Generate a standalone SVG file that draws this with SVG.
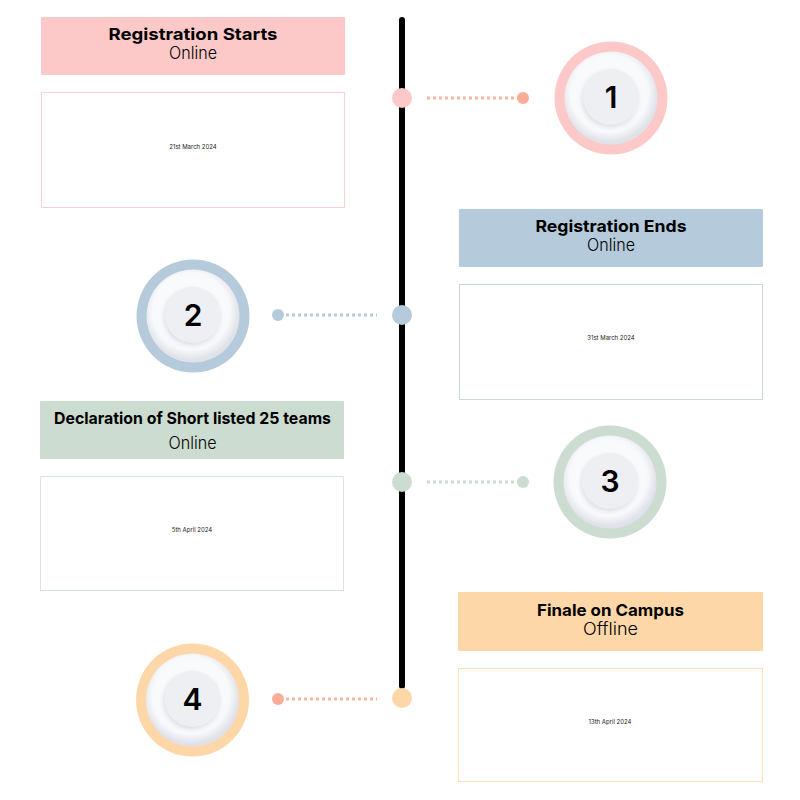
<svg xmlns="http://www.w3.org/2000/svg" width="800" height="800" viewBox="0 0 800 800">
<defs>
<radialGradient id="plate" cx="48%" cy="45%" r="52%">
<stop offset="0" stop-color="#ffffff"/>
<stop offset="0.8" stop-color="#f8f9fb"/>
<stop offset="1" stop-color="#e0e2e9"/>
</radialGradient>
<filter id="sh" x="-30%" y="-30%" width="160%" height="160%">
<feDropShadow dx="-1" dy="2" stdDeviation="2.5" flood-color="#c3c6d3" flood-opacity="0.6"/>
</filter>
<style>
.title{font-family:Inter,"Liberation Sans",sans-serif;font-weight:700;font-size:16.5px;fill:#000;text-anchor:middle}
.sub{font-family:Inter,"Liberation Sans",sans-serif;font-weight:300;font-size:17px;fill:#000;text-anchor:middle}
.date{font-family:Inter,"Liberation Sans",sans-serif;font-size:6px;fill:#222;text-anchor:middle}
.num{font-family:Inter,"Liberation Sans",sans-serif;font-weight:600;font-size:30px;fill:#000;text-anchor:middle}
.card{fill:#fff;stroke-width:1}
.dots{stroke-width:3;stroke-dasharray:3 3;fill:none}
.plate{fill:url(#plate)}
.disc{fill:#edeff3;filter:url(#sh)}
</style>
</defs>
<rect width="800" height="800" fill="#fff"/>

<g id="connectors">
<line x1="402" y1="20" x2="402" y2="686" stroke="#000" stroke-width="6" stroke-linecap="round"/>
<line class="dots" x1="427" y1="98" x2="518" y2="98" stroke="#fbb5a3"/>
<circle cx="523" cy="98" r="6" fill="#fbad98"/>
<line class="dots" x1="286" y1="315" x2="377" y2="315" stroke="#b5cada"/>
<circle cx="278" cy="315" r="6" fill="#b5cada"/>
<line class="dots" x1="427" y1="482" x2="518" y2="482" stroke="#ccdcd1"/>
<circle cx="523" cy="482" r="6" fill="#ccdcd1"/>
<line class="dots" x1="286" y1="699" x2="377" y2="699" stroke="#fbb5a3"/>
<circle cx="278" cy="699" r="6" fill="#fbad98"/>
<circle cx="402" cy="98" r="10" fill="#fcc9c8"/>
<circle cx="402" cy="315" r="10" fill="#b5cada"/>
<circle cx="402" cy="482" r="10" fill="#ccdcd1"/>
<circle cx="402" cy="698" r="10" fill="#fed7a9"/>
</g>

<g id="step1">
<rect x="41" y="17" width="304" height="58" rx="1" fill="#fcc9c8"/>
<text class="title" x="193" y="40" textLength="169" lengthAdjust="spacingAndGlyphs">Registration Starts</text>
<text class="sub" x="193" y="59" textLength="48" lengthAdjust="spacingAndGlyphs">Online</text>
<rect class="card" x="41.5" y="92.5" width="303" height="115" stroke="#fcd0cf"/>
<text class="date" x="193" y="149">21st March 2024</text>
<circle cx="611" cy="98" r="56.5" fill="#fcc9c8"/>
<circle class="plate" cx="611" cy="98" r="46.5"/>
<circle class="disc" cx="611" cy="97" r="28"/>
<text class="num" x="611" y="108">1</text>
</g>

<g id="step2">
<rect x="459" y="209" width="304" height="58" rx="1" fill="#b5cada"/>
<text class="title" x="611" y="232" textLength="151" lengthAdjust="spacingAndGlyphs">Registration Ends</text>
<text class="sub" x="611" y="251" textLength="48" lengthAdjust="spacingAndGlyphs">Online</text>
<rect class="card" x="459.5" y="284.5" width="303" height="115" stroke="#c9d7e3"/>
<text class="date" x="611" y="340">31st March 2024</text>
<circle cx="193" cy="316" r="56.5" fill="#b5cada"/>
<circle class="plate" cx="193" cy="316" r="46.5"/>
<circle class="disc" cx="193" cy="315" r="28"/>
<text class="num" x="193" y="326">2</text>
</g>

<g id="step3">
<rect x="40" y="401" width="304" height="58" rx="1" fill="#ccdcd1"/>
<text class="title" x="192.5" y="424" textLength="277" lengthAdjust="spacingAndGlyphs">Declaration of Short listed 25 teams</text>
<text class="sub" x="192.5" y="449" textLength="48" lengthAdjust="spacingAndGlyphs">Online</text>
<rect class="card" x="40.5" y="476.5" width="303" height="114" stroke="#d9e5dd"/>
<text class="date" x="192" y="532">5th April 2024</text>
<circle cx="610" cy="482" r="56.5" fill="#ccdcd1"/>
<circle class="plate" cx="610" cy="482" r="46.5"/>
<circle class="disc" cx="610" cy="481" r="28"/>
<text class="num" x="610" y="492">3</text>
</g>

<g id="step4">
<rect x="458" y="592" width="305" height="59" rx="1" fill="#fed7a9"/>
<text class="title" x="610.5" y="616" textLength="147" lengthAdjust="spacingAndGlyphs">Finale on Campus</text>
<text class="sub" x="610.5" y="635" textLength="55" lengthAdjust="spacingAndGlyphs">Offline</text>
<rect class="card" x="458.5" y="668.5" width="304" height="113" stroke="#fee0bb"/>
<text class="date" x="610" y="724">13th April 2024</text>
<circle cx="192.5" cy="700" r="56.5" fill="#fed7a9"/>
<circle class="plate" cx="192.5" cy="700" r="46.5"/>
<circle class="disc" cx="192.5" cy="699" r="28"/>
<text class="num" x="192.5" y="710">4</text>
</g>
</svg>
